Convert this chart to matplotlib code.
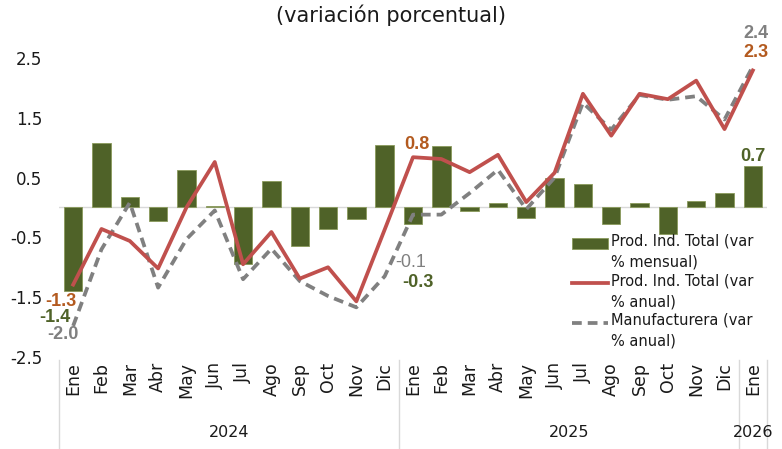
import matplotlib
matplotlib.use("Agg")
import matplotlib.pyplot as plt
from matplotlib.legend_handler import HandlerPatch, HandlerLine2D, update_from_first_child
import numpy as np

# datos (variacion porcentual)
meses = ["Ene", "Feb", "Mar", "Abr", "May", "Jun", "Jul", "Ago", "Sep", "Oct", "Nov", "Dic"] * 2 + ["Ene"]
anios = ["2024", "2025", "2026"]
meses_por_anio = [12, 12, 1]

mensual = [-1.4, 1.07, 0.17, -0.23, 0.62, 0.02, -0.94, 0.45, -0.64, -0.36, -0.19, 1.04,
           -0.27, 1.03, -0.06, 0.08, -0.17, 0.5, 0.4, -0.27, 0.07, -0.45, 0.11, 0.24, 0.7]
anual = [-1.29, -0.36, -0.56, -1.02, 0.0, 0.76, -0.95, -0.41, -1.19, -1.0, -1.57, -0.37,
         0.84, 0.81, 0.59, 0.88, 0.09, 0.58, 1.9, 1.2, 1.9, 1.81, 2.12, 1.31, 2.29]
manuf = [-1.98, -0.7, 0.08, -1.34, -0.53, -0.05, -1.2, -0.69, -1.23, -1.48, -1.67, -1.15,
         -0.12, -0.12, 0.24, 0.63, -0.03, 0.5, 1.75, 1.3, 1.88, 1.8, 1.86, 1.47, 2.36]

verde = "#4F6228"
rojo = "#C0504D"
gris = "#808080"
naranja = "#B35A1F"

plt.rcParams["font.family"] = "DejaVu Sans"

fig = plt.figure(figsize=(7.82, 4.49), dpi=100)
ax = fig.add_axes([59 / 782, 1 - 357 / 449, 708 / 782, 329 / 449])

x = np.arange(len(meses))
barras = ax.bar(x, mensual, width=0.65, color=verde, edgecolor="#8A9A5B", linewidth=0.6,
                label="Prod. Ind. Total (var\n% mensual)", zorder=2)
l1, = ax.plot(x, anual, color=rojo, lw=2.7, label="Prod. Ind. Total (var\n% anual)", zorder=4)
l2, = ax.plot(x, manuf, color=gris, lw=2.7, dashes=(2.6, 1.6),
              label="Manufacturera (var\n% anual)", zorder=3)

ax.axhline(0, color="#D9D9D9", lw=1, zorder=1)

ax.set_xlim(-0.5, len(meses) - 0.5)
ax.set_ylim(-2.5, 3.0)
ax.set_yticks([-2.5, -1.5, -0.5, 0.5, 1.5, 2.5])
ax.set_yticklabels(["-2.5", "-1.5", "-0.5", "0.5", "1.5", "2.5"])
ax.set_xticks(x)
ax.set_xticklabels(meses, rotation=90)
ax.tick_params(axis="y", length=0, pad=12, labelsize=12, colors="#1a1a1a")
ax.tick_params(axis="x", length=0, pad=3.5, labelsize=12.5, colors="#1a1a1a")
for s in ax.spines.values():
    s.set_visible(False)

# grupos de anios y separadores
trans = ax.get_xaxis_transform()
inicio = -0.5
bordes = [inicio]
for anio, n in zip(anios, meses_por_anio):
    ax.text(inicio + n / 2, -0.228, anio, transform=trans, ha="center", va="center",
            fontsize=11.5, color="#1a1a1a")
    inicio += n
    bordes.append(inicio)
for b in bordes:
    ax.plot([b, b], [-0.01, -0.29], transform=trans, color="#D9D9D9", lw=1, clip_on=False)

# etiquetas de datos
def etiqueta(i, v, color, dx, dy, peso="bold"):
    ax.annotate(f"{v:.1f}", (x[i], v), xytext=(dx, dy), textcoords="offset pixels",
                ha="center", va="center", color=color, fontsize=13, fontweight=peso,
                family="Liberation Sans", zorder=6)

etiqueta(0, anual[0], naranja, -12, -17)
etiqueta(0, mensual[0], verde, -18, -26)
etiqueta(0, manuf[0], gris, -10, -9)
etiqueta(12, anual[12], naranja, 4, 13)
etiqueta(12, manuf[12], gris, -2, -48, peso="normal")
etiqueta(12, mensual[12], verde, 5, -59)
etiqueta(24, manuf[24], gris, 3, 33)
etiqueta(24, anual[24], naranja, 3, 18)
etiqueta(24, mensual[24], verde, 0, 9)

# leyenda: simbolo a la altura de la primera linea del texto
SUBIR = 6.5

class PatchArriba(HandlerPatch):
    def create_artists(self, legend, orig, xd, yd, w, h, fs, trans):
        return super().create_artists(legend, orig, xd, yd - SUBIR, w, h, fs, trans)

class LineaArriba(HandlerLine2D):
    def create_artists(self, legend, orig, xd, yd, w, h, fs, trans):
        return super().create_artists(legend, orig, xd, yd - 2 * SUBIR, w, h, fs, trans)

hmap = {barras: PatchArriba(update_func=update_from_first_child),
        l1: LineaArriba(), l2: LineaArriba()}
leg = ax.legend([barras, l1, l2], [barras.get_label(), l1.get_label(), l2.get_label()],
                handler_map=hmap, loc="upper left", bbox_to_anchor=(0.7246, 0.375),
                frameon=False, fontsize=10.5, borderpad=0, borderaxespad=0,
                labelspacing=0.25, handlelength=2.5, handletextpad=0.15)
for t in leg.get_texts():
    t.set_linespacing(1.5)
    t.set_color("#1a1a1a")

fig.text(0.5, 1 - 15 / 449, "(variación porcentual)", ha="center", va="center",
         fontsize=15, color="#1a1a1a")

fig.savefig("out.png", dpi=100)
